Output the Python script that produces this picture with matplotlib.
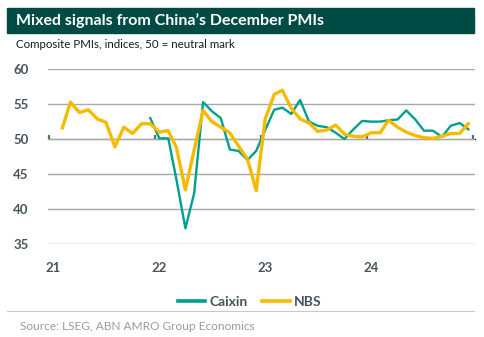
import matplotlib
matplotlib.use("Agg")
import matplotlib.pyplot as plt
import matplotlib.patches as mpatches
import pandas as pd

# monthly composite PMIs, Feb 2021 - Dec 2024
nbs = [51.6, 55.3, 53.8, 54.2, 52.9, 52.4, 48.9, 51.7, 50.8, 52.2, 52.2,
       51.0, 51.2, 48.8, 42.7, 48.4, 54.1, 52.5, 51.7, 50.9, 49.0, 47.1, 42.6,
       52.9, 56.4, 57.0, 54.4, 52.9, 52.3, 51.1, 51.3, 52.0, 50.7, 50.4, 50.3,
       50.9, 50.9, 52.7, 51.7, 51.0, 50.5, 50.2, 50.1, 50.4, 50.8, 50.8, 52.2]
# Caixin series, Dec 2021 - Dec 2024
caixin = [53.0,
          50.1, 50.1, 44.2, 37.2, 42.2, 55.3, 54.0, 53.0, 48.5, 48.3, 47.0, 48.3,
          51.3, 54.2, 54.5, 53.6, 55.6, 52.5, 51.9, 51.7, 50.9, 50.0, 51.4, 52.6,
          52.5, 52.5, 52.7, 52.8, 54.1, 52.8, 51.2, 51.2, 50.3, 51.9, 52.3, 51.4]

nbs_dates = pd.date_range("2021-02-01", "2024-12-01", freq="MS") + pd.Timedelta(days=14)
caixin_dates = pd.date_range("2021-12-01", "2024-12-01", freq="MS") + pd.Timedelta(days=14)

year_labels = ["21", "22", "23", "24"]
year_starts = pd.to_datetime(["2021-01-01", "2022-01-01", "2023-01-01", "2024-01-01", "2025-01-01"])
y_ticks = [35, 40, 45, 50, 55, 60]

title = "Mixed signals from China\u2019s December PMIs"
subtitle = "Composite PMIs, indices, 50 = neutral mark"
source = "Source: LSEG, ABN AMRO Group Economics"

teal_dark = "#004c45"
caixin_col = "#00a08c"
nbs_col = "#f5bb00"
label_col = "#46545c"

plt.rcParams["font.family"] = ["Lato", "DejaVu Sans"]

W, H = 484, 337
fig = plt.figure(figsize=(W / 100, H / 100), dpi=100)

# header bar
fig.patches.append(mpatches.Rectangle((7 / W, 1 - 33 / H), 467 / W, 25 / H,
                                      transform=fig.transFigure, color=teal_dark, zorder=0))
fig.text(16 / W, 1 - 21 / H, title, color="white", fontsize=11.5, fontweight="bold",
         va="center", ha="left")
fig.text(16 / W, 1 - 44 / H, subtitle, color="#1a1a1a", fontsize=8.3, va="center", ha="left")

ax = fig.add_axes([47.85 / W, 93.3 / H, 426.9 / W, 174.4 / H])
ax.set_xlim(pd.Timestamp("2020-12-27"), pd.Timestamp("2025-01-06"))
ax.set_ylim(35, 60)

ax.set_yticks(y_ticks)
ax.yaxis.grid(True, color="#a9a9a9", linewidth=1.0)
ax.set_axisbelow(True)
for s in ax.spines.values():
    s.set_visible(False)

ax.plot(caixin_dates, caixin, color=caixin_col, lw=1.7, label="Caixin", zorder=3)
ax.plot(nbs_dates, nbs, color=nbs_col, lw=2.4, label="NBS", zorder=4)

# year labels sit just right of the year ticks
ax.set_xticks(year_starts[:-1] + pd.Timedelta(days=14))
ax.set_xticklabels(year_labels)
ax.tick_params(axis="x", length=0, pad=13, labelsize=9.5, labelcolor=label_col)
ax.tick_params(axis="y", length=0, pad=14, labelsize=9.5, labelcolor=label_col)
for t in ax.get_xticklabels() + ax.get_yticklabels():
    t.set_fontweight("bold")
for t in ax.get_yticklabels():
    t.set_ha("right")

# neutral line with year tick marks
sec = ax.secondary_xaxis((50 - 35) / (60 - 35))
sec.set_xticks(year_starts)
sec.set_xticklabels([])
sec.spines["bottom"].set_color("#5d6b73")
sec.spines["bottom"].set_linewidth(1.6)
sec.tick_params(axis="x", direction="out", length=3, width=1.6, color="#5d6b73")

leg = fig.legend(loc="center", bbox_to_anchor=(249.5 / W, 1 - 302 / H), ncol=2, frameon=False,
                 fontsize=10, handlelength=2.0, handletextpad=0.3, columnspacing=1.0)
for t in leg.get_texts():
    t.set_color(label_col)
    t.set_fontweight("bold")
for h in leg.legend_handles:
    h.set_linewidth(2.6)

fig.add_artist(plt.Line2D([7 / W, 474 / W], [1 - 311 / H, 1 - 311 / H],
                          transform=fig.transFigure, color="#c8c8c8", lw=0.8))
fig.text(20 / W, 1 - 327 / H, source, color="#9a9a9a", fontsize=8.6, va="center", ha="left")

fig.savefig("out.png", dpi=100)
